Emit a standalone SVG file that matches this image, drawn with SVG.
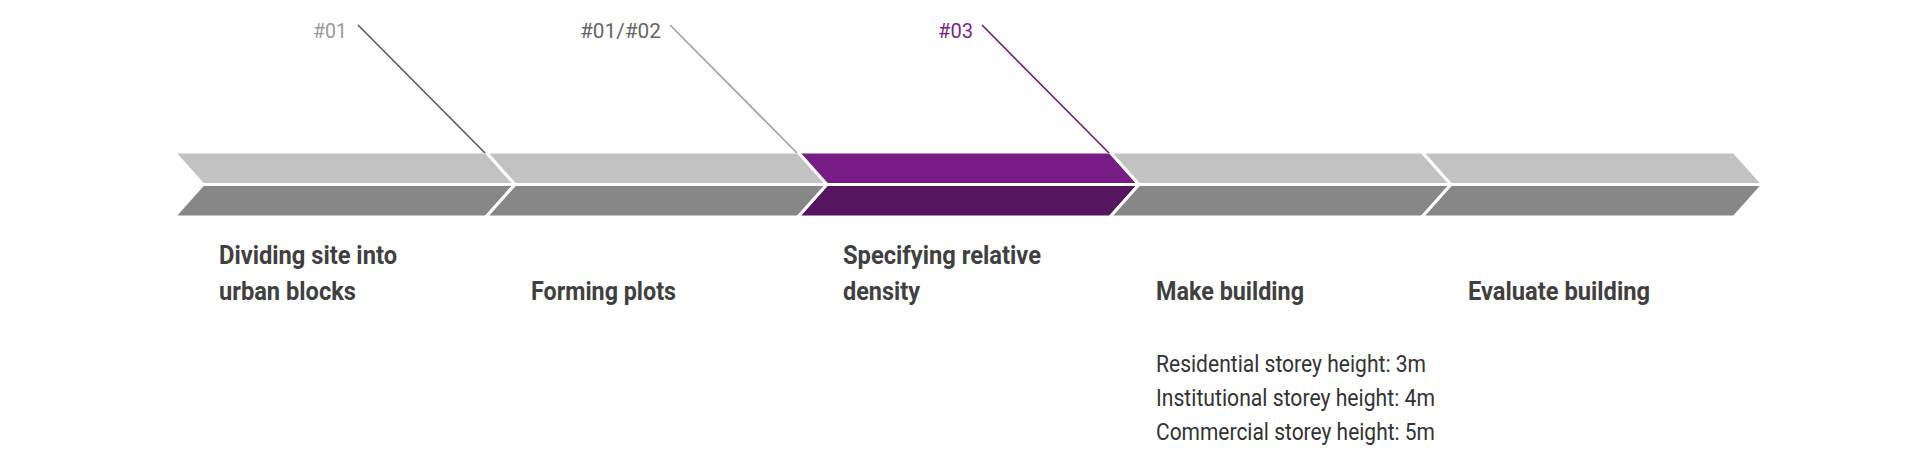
<svg xmlns="http://www.w3.org/2000/svg" width="1920" height="460" viewBox="0 0 1920 460">
<style>
  .top{fill:#c2c2c2;stroke:#fff;stroke-width:3;stroke-linejoin:miter}
  .bot{fill:#878787;stroke:#fff;stroke-width:3;stroke-linejoin:miter}
  .ptop{fill:#771d85;stroke:#fff;stroke-width:3}
  .pbot{fill:#55155f;stroke:#fff;stroke-width:3}
  .title{font-family:Roboto,"Liberation Sans",sans-serif;font-weight:bold;font-size:26px;fill:#404040}
  .note{font-family:Roboto,"Liberation Sans",sans-serif;font-size:23px;fill:#333}
  .tag{font-family:Roboto,"Liberation Sans",sans-serif;font-size:21px}
  .lead{fill:none;stroke-width:1.6}
</style>
<rect width="1920" height="460" fill="#fff"/>
<g id="step1">
  <polygon class="top" points="174,152 486,152 515,184.5 203,184.5"/>
  <polygon class="bot" points="203,184.5 515,184.5 486,217 174,217"/>
  <text class="title" x="219" y="264" textLength="178" lengthAdjust="spacingAndGlyphs">Dividing site into</text>
  <text class="title" x="219" y="300" textLength="137" lengthAdjust="spacingAndGlyphs">urban blocks</text>
</g>
<g id="step2">
  <polygon class="top" points="486,152 798,152 827,184.5 515,184.5"/>
  <polygon class="bot" points="515,184.5 827,184.5 798,217 486,217"/>
  <text class="title" x="531" y="300" textLength="145" lengthAdjust="spacingAndGlyphs">Forming plots</text>
</g>
<g id="step3">
  <polygon class="ptop" points="798,152 1110,152 1139,184.5 827,184.5"/>
  <polygon class="pbot" points="827,184.5 1139,184.5 1110,217 798,217"/>
  <text class="title" x="843" y="264" textLength="198" lengthAdjust="spacingAndGlyphs">Specifying relative</text>
  <text class="title" x="843" y="300" textLength="77" lengthAdjust="spacingAndGlyphs">density</text>
</g>
<g id="step4">
  <polygon class="top" points="1110,152 1422,152 1451,184.5 1139,184.5"/>
  <polygon class="bot" points="1139,184.5 1451,184.5 1422,217 1110,217"/>
  <text class="title" x="1156" y="300" textLength="148" lengthAdjust="spacingAndGlyphs">Make building</text>
  <text class="note" x="1156" y="372" textLength="270" lengthAdjust="spacingAndGlyphs">Residential storey height: 3m</text>
  <text class="note" x="1156" y="406" textLength="279" lengthAdjust="spacingAndGlyphs">Institutional storey height: 4m</text>
  <text class="note" x="1156" y="440" textLength="279" lengthAdjust="spacingAndGlyphs">Commercial storey height: 5m</text>
</g>
<g id="step5">
  <polygon class="top" points="1422,152 1734,152 1763,184.5 1451,184.5"/>
  <polygon class="bot" points="1451,184.5 1763,184.5 1734,217 1422,217"/>
  <text class="title" x="1468" y="300" textLength="182" lengthAdjust="spacingAndGlyphs">Evaluate building</text>
</g>
<g id="connectors">
  <line class="lead" x1="358" y1="25" x2="485" y2="153" stroke="#5a5a5a"/>
  <line class="lead" x1="670" y1="25" x2="797" y2="153" stroke="#a0a0a0"/>
  <line class="lead" x1="982" y1="25" x2="1109" y2="153" stroke="#6a1b7a"/>
  <text class="tag" x="313" y="38" textLength="34" lengthAdjust="spacingAndGlyphs" fill="#9a9a9a">#01</text>
  <text class="tag" x="580" y="38" textLength="81" lengthAdjust="spacingAndGlyphs" fill="#666">#01/#02</text>
  <text class="tag" x="938" y="38" textLength="35" lengthAdjust="spacingAndGlyphs" fill="#7a1f8a">#03</text>
</g>
</svg>
